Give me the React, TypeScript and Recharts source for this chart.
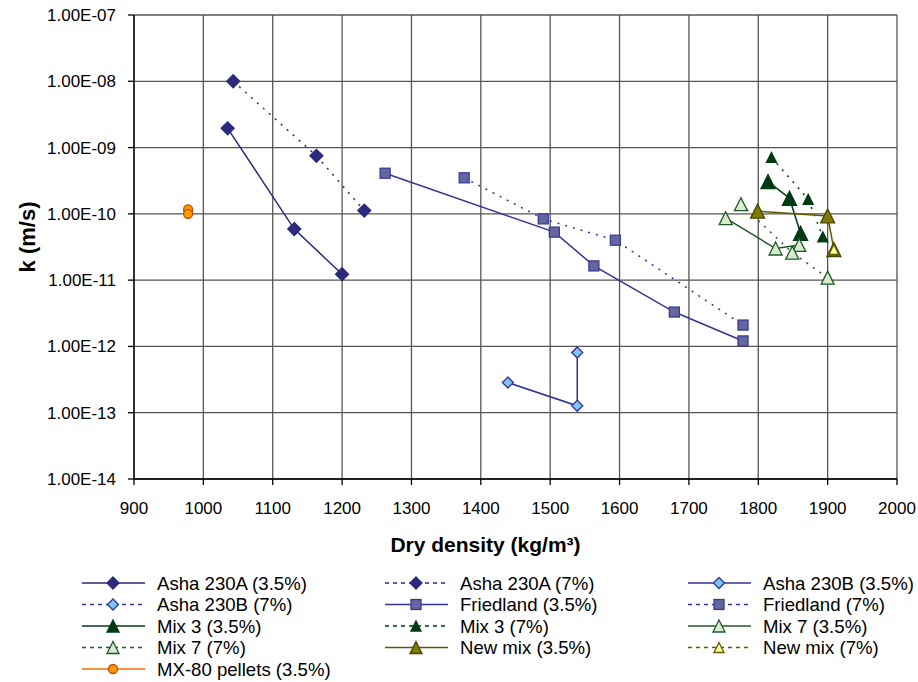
import React from 'react';
import { ScatterChart, Scatter, XAxis, YAxis, CartesianGrid } from 'recharts';

const FONT = 'Arial, "Liberation Sans", sans-serif';

// axis ticks
const densityTicks = [900, 1000, 1100, 1200, 1300, 1400, 1500, 1600, 1700, 1800, 1900, 2000];
const kTicks = [1e-14, 1e-13, 1e-12, 1e-11, 1e-10, 1e-9, 1e-8, 1e-7];

// dry density (kg/m3) and hydraulic conductivity k (m/s) per material
const asha230A35Density = [1035, 1131, 1200];
const asha230A35K = [1.95e-9, 5.9e-11, 1.23e-11];
const asha230A7Density = [1043, 1163, 1232];
const asha230A7K = [1.0e-8, 7.5e-10, 1.12e-10];

const asha230B35Density = [1439, 1539, 1539];
const asha230B35K = [2.85e-13, 1.27e-13, 8.1e-13];
const asha230B7Density: number[] = [];
const asha230B7K: number[] = [];

const friedland35Density = [1262, 1506, 1563, 1679, 1778];
const friedland35K = [4.1e-10, 5.3e-11, 1.64e-11, 3.3e-12, 1.21e-12];
const friedland7Density = [1376, 1490, 1594, 1778];
const friedland7K = [3.5e-10, 8.4e-11, 4.0e-11, 2.1e-12];

const mix3_35Density = [1814, 1845, 1861];
const mix3_35K = [3.06e-10, 1.72e-10, 5.1e-11];
const mix3_7Density = [1819, 1872, 1893];
const mix3_7K = [7.1e-10, 1.66e-10, 4.5e-11];

const mix7_35Density = [1753, 1825, 1859];
const mix7_35K = [8.6e-11, 3.0e-11, 3.4e-11];
const mix7_7Density = [1775, 1849, 1900];
const mix7_7K = [1.4e-10, 2.6e-11, 1.09e-11];

const newMix35Density = [1799, 1900, 1909];
const newMix35K = [1.1e-10, 9.3e-11, 2.9e-11];
const newMix7Density = [1909];
const newMix7K = [2.9e-11];

const mx80Density = [978, 978];
const mx80K = [1.17e-10, 1.0e-10];

type Shape = 'diamond' | 'square' | 'triangle' | 'circle';

interface Series {
  name: string;
  density: number[];
  k: number[];
  shape: Shape;
  size: number;
  fill: string;
  stroke: string;
  line: string;
  dotted: boolean;
}

const series: Series[] = [
  { name: 'Asha 230A (3.5%)', density: asha230A35Density, k: asha230A35K, shape: 'diamond', size: 13, fill: '#2b2a7c', stroke: '#2b2a7c', line: '#2b2a7c', dotted: false },
  { name: 'Asha 230A (7%)', density: asha230A7Density, k: asha230A7K, shape: 'diamond', size: 13, fill: '#2b2a7c', stroke: '#2b2a7c', line: '#2b2a7c', dotted: true },
  { name: 'Asha 230B (3.5%)', density: asha230B35Density, k: asha230B35K, shape: 'diamond', size: 11, fill: '#7ec6ef', stroke: '#333399', line: '#333399', dotted: false },
  { name: 'Asha 230B (7%)', density: asha230B7Density, k: asha230B7K, shape: 'diamond', size: 11, fill: '#7ec6ef', stroke: '#333399', line: '#333399', dotted: true },
  { name: 'Friedland (3.5%)', density: friedland35Density, k: friedland35K, shape: 'square', size: 10, fill: '#66669f', stroke: '#3a3a9a', line: '#333399', dotted: false },
  { name: 'Friedland (7%)', density: friedland7Density, k: friedland7K, shape: 'square', size: 10, fill: '#66669f', stroke: '#3a3a9a', line: '#333399', dotted: true },
  { name: 'Mix 3 (3.5%)', density: mix3_35Density, k: mix3_35K, shape: 'triangle', size: 14, fill: '#003a12', stroke: '#003a12', line: '#003a12', dotted: false },
  { name: 'Mix 3 (7%)', density: mix3_7Density, k: mix3_7K, shape: 'triangle', size: 10, fill: '#003a12', stroke: '#003a12', line: '#003a12', dotted: true },
  { name: 'Mix 7 (3.5%)', density: mix7_35Density, k: mix7_35K, shape: 'triangle', size: 13, fill: '#d8eccd', stroke: '#1f5a2c', line: '#1f5a2c', dotted: false },
  { name: 'Mix 7 (7%)', density: mix7_7Density, k: mix7_7K, shape: 'triangle', size: 13, fill: '#d8eccd', stroke: '#1f5a2c', line: '#1f5a2c', dotted: true },
  { name: 'New mix (3.5%)', density: newMix35Density, k: newMix35K, shape: 'triangle', size: 14, fill: '#7f7a00', stroke: '#4a4500', line: '#5e5a00', dotted: false },
  { name: 'New mix (7%)', density: newMix7Density, k: newMix7K, shape: 'triangle', size: 10, fill: '#ffff99', stroke: '#5e5a00', line: '#5e5a00', dotted: true },
  { name: 'MX-80 pellets (3.5%)', density: mx80Density, k: mx80K, shape: 'circle', size: 9, fill: '#ff9900', stroke: '#c04a00', line: '#ff6a00', dotted: false },
];

const drawMarker = (s: Series, cx: number, cy: number, key?: string) => {
  const h = s.size / 2;
  const common = { fill: s.fill, stroke: s.stroke, strokeWidth: 1.3 };
  if (s.shape === 'diamond') {
    return <polygon key={key} points={`${cx},${cy - h} ${cx + h},${cy} ${cx},${cy + h} ${cx - h},${cy}`} {...common} />;
  }
  if (s.shape === 'square') {
    return <rect key={key} x={cx - h} y={cy - h} width={s.size} height={s.size} {...common} />;
  }
  if (s.shape === 'triangle') {
    return <polygon key={key} points={`${cx},${cy - h} ${cx + h},${cy + h} ${cx - h},${cy + h}`} {...common} />;
  }
  return <circle key={key} cx={cx} cy={cy} r={h} {...common} />;
};

const formatK = (v: number) => {
  const exp = Math.round(Math.log10(v));
  return `1.00E-${String(-exp).padStart(2, '0')}`;
};

const ChartLegend = () => {
  const colX = [82, 385, 688];
  const rowY = [583, 604.5, 626, 647.5, 669];
  return (
    <svg width={918} height={682} style={{ position: 'absolute', left: 0, top: 0, pointerEvents: 'none' }}>
      {series.map((s, i) => {
        const x = colX[i % 3];
        const y = rowY[Math.floor(i / 3)];
        return (
          <g key={s.name}>
            <line x1={x} x2={x + 63} y1={y} y2={y} stroke={s.line} strokeWidth={1.6}
              strokeDasharray={s.dotted ? '4 4' : undefined} />
            {drawMarker({ ...s, size: Math.min(s.size, 12) }, x + 31, y)}
            <text x={x + 75} y={y + 6.5} fontSize={18.6} fontFamily={FONT} fill="#000">{s.name}</text>
          </g>
        );
      })}
    </svg>
  );
};

export default function App() {
  return (
    <div style={{ position: 'absolute', left: 0, top: 0, width: 918, height: 682, background: '#fff' }}>
      <ScatterChart width={918} height={562} margin={{ top: 15, right: 21, left: 0, bottom: 0 }}>
        <CartesianGrid stroke="#555" strokeWidth={1.3} />
        <XAxis
          type="number"
          dataKey="x"
          domain={[900, 2000]}
          ticks={densityTicks}
          interval={0}
          height={83}
          tickSize={6}
          tickMargin={17}
          axisLine={{ stroke: '#000', strokeWidth: 1.3 }}
          tickLine={{ stroke: '#000', strokeWidth: 1.3 }}
          tick={{ fill: '#000', fontSize: 17, fontFamily: FONT }}
          label={({ viewBox }: any) => (
            <text x={viewBox.x + viewBox.width / 2 - 30} y={viewBox.y + 73} textAnchor="middle"
              fontSize={21} fontWeight="bold" fontFamily={FONT} fill="#000">
              Dry density (kg/m³)
            </text>
          )}
        />
        <YAxis
          type="number"
          dataKey="y"
          scale="log"
          domain={[1e-14, 1e-7]}
          ticks={kTicks}
          interval={0}
          allowDataOverflow
          width={134}
          tickSize={6}
          tickMargin={12}
          tickFormatter={formatK}
          axisLine={{ stroke: '#000', strokeWidth: 1.3 }}
          tickLine={{ stroke: '#000', strokeWidth: 1.3 }}
          tick={{ fill: '#000', fontSize: 17, fontFamily: FONT }}
          label={({ viewBox }: any) => (
            <text x={viewBox.x + 35} y={viewBox.y + viewBox.height / 2 - 10} textAnchor="middle"
              transform={`rotate(-90 ${viewBox.x + 35} ${viewBox.y + viewBox.height / 2 - 10})`}
              fontSize={22} fontWeight="bold" fontFamily={FONT} fill="#000">
              k (m/s)
            </text>
          )}
        />
        {series.map((s) => (
          <Scatter
            key={s.name}
            name={s.name}
            data={s.density.map((d, i) => ({ x: d, y: s.k[i] }))}
            fill={s.fill}
            line={{ stroke: s.line, strokeWidth: 1.5, strokeDasharray: s.dotted ? '2 6' : undefined }}
            lineType="joint"
            shape={(p: any) => drawMarker(s, p.cx, p.cy)}
            isAnimationActive={false}
          />
        ))}
      </ScatterChart>
      <ChartLegend />
    </div>
  );
}
